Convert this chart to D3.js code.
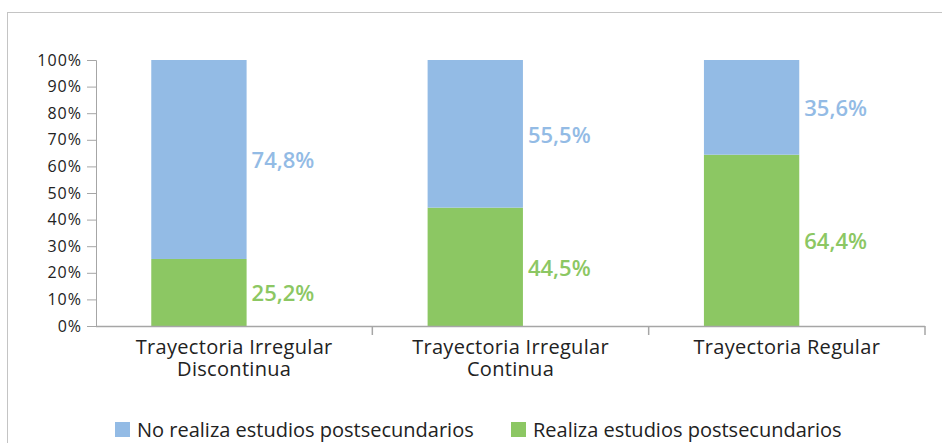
<!DOCTYPE html>
<html>
<head>
<meta charset="utf-8">
<script src="https://cdn.jsdelivr.net/npm/d3@7"></script>
<style>
	body { margin: 0; background: #fff; }
	svg { display: block; font-family: "Open Sans", "Noto Sans", sans-serif; }
	.tick text { fill: #222; }
</style>
</head>
<body>
<div class="container"></div>
<script>
const width = 942, height = 443;

const categories = ['Trayectoria Irregular Discontinua', 'Trayectoria Irregular Continua', 'Trayectoria Regular'];
const seriesNames = ['Realiza estudios postsecundarios', 'No realiza estudios postsecundarios'];
const realiza = [25.2, 44.5, 64.4];
const noRealiza = [74.8, 55.5, 35.6];
const yTicks = [0, 10, 20, 30, 40, 50, 60, 70, 80, 90, 100];
const colors = ['#8cc763', '#93bbe5'];

const margin = {top: 60, right: 17, bottom: 117, left: 96};

const x = d3.scaleBand().domain(categories).range([margin.left, width - margin.right]);
const y = d3.scaleLinear().domain([0, 100]).range([height - margin.bottom, margin.top]);

const svg = d3.select('.container').append('svg')
	.attr('width', width)
	.attr('height', height);

// frame
svg.append('rect')
	.attr('x', 7.5).attr('y', 12.5)
	.attr('width', width).attr('height', height)
	.attr('fill', 'none')
	.attr('stroke', '#c4c4c4');

// stacked data
const stacked = d3.stack().keys([0, 1])(categories.map((c, i) => ({cat: c, 0: realiza[i], 1: noRealiza[i]})));

const bw = x.bandwidth();
const barW = bw * 0.345;
const barOff = bw * 0.2;

stacked.forEach((layer, li) => {
	svg.append('g')
		.attr('fill', colors[li])
		.selectAll('rect')
		.data(layer)
		.join('rect')
		.attr('x', d => x(d.data.cat) + barOff)
		.attr('y', d => y(d[1]))
		.attr('width', barW)
		.attr('height', d => y(d[0]) - y(d[1]));

	svg.append('g')
		.selectAll('text')
		.data(layer)
		.join('text')
		.attr('x', d => x(d.data.cat) + barOff + barW + 5)
		.attr('y', d => y((d[0] + d[1]) / 2))
		.attr('dominant-baseline', 'central')
		.attr('fill', colors[li])
		.attr('font-size', 22)
		.attr('font-weight', 600)
		.text(d => d3.format('.1f')(d[1] - d[0]).replace('.', ',') + '%');
});

// y axis
const yAxis = svg.append('g')
	.attr('transform', 'translate(' + margin.left + ',0)')
	.call(d3.axisLeft(y).tickValues(yTicks).tickSize(9).tickPadding(5).tickFormat(d => d + '%'));
yAxis.selectAll('text')
	.attr('font-size', 16)
	.attr('letter-spacing', 1)
	.attr('font-family', '"Open Sans", sans-serif');
yAxis.selectAll('line, path').attr('stroke', '#a6a6a6');

// x axis
const y0 = y(0);
const xg = svg.append('g');
xg.append('line')
	.attr('x1', x.range()[0]).attr('x2', x.range()[1])
	.attr('y1', y0 + 0.5).attr('y2', y0 + 0.5)
	.attr('stroke', '#a6a6a6').attr('stroke-width', 1.5);
xg.selectAll('line.tk')
	.data(categories.map(c => x(c) + bw))
	.join('line')
	.attr('class', 'tk')
	.attr('x1', d => d).attr('x2', d => d)
	.attr('y1', y0).attr('y2', y0 + 9)
	.attr('stroke', '#a6a6a6').attr('stroke-width', 1.5);

function wrap(s) {
	const w = s.split(' ');
	return w.length > 2 ? [w.slice(0, 2).join(' '), w.slice(2).join(' ')] : [s];
}

xg.selectAll('text')
	.data(categories)
	.join('text')
	.attr('text-anchor', 'middle')
	.attr('font-size', 20)
	.attr('letter-spacing', 0.3)
	.attr('fill', '#222')
	.each(function(d) {
		d3.select(this).selectAll('tspan')
			.data(wrap(d))
			.join('tspan')
			.attr('x', x(d) + bw / 2)
			.attr('y', (t, i) => y0 + 28 + i * 22)
			.text(t => t);
	});

// legend
const legendX = [115, 511];
const legend = svg.append('g');
[1, 0].forEach((k, i) => {
	legend.append('rect')
		.attr('x', legendX[i]).attr('y', 422)
		.attr('width', 15).attr('height', 15)
		.attr('fill', colors[k]);
	legend.append('text')
		.attr('x', legendX[i] + 22).attr('y', 437)
		.attr('font-size', 20)
		.attr('fill', '#222')
		.text(seriesNames[k]);
});
</script>
</body>
</html>
